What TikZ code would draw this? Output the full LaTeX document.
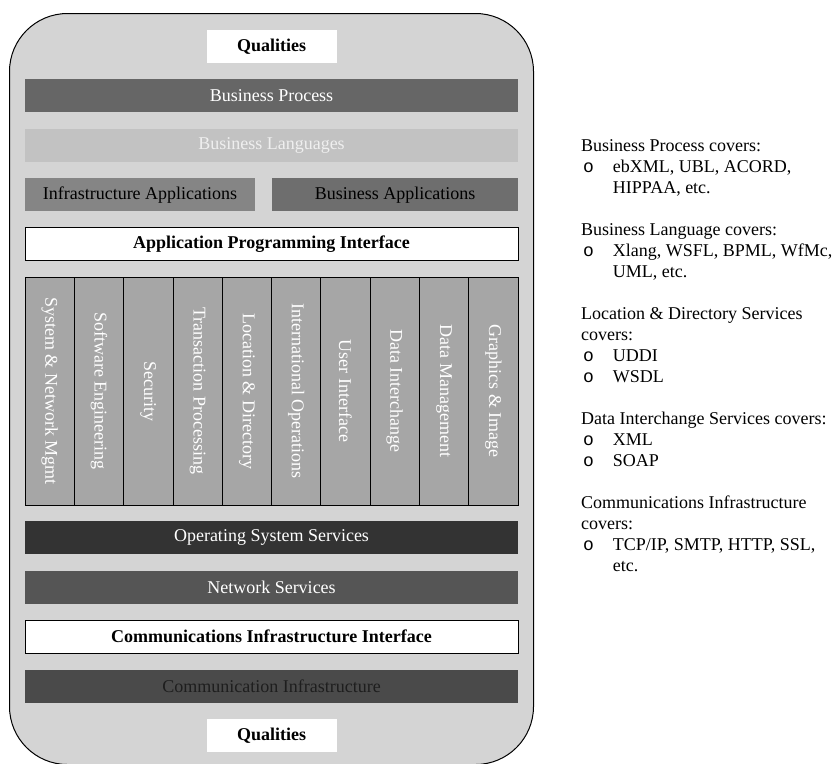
\documentclass[tikz,border=0pt]{standalone}
\usepackage{fontspec}
\setmainfont{Liberation Serif}
\newfontfamily\bulletfont{Liberation Mono}
\usetikzlibrary{positioning}

\definecolor{shellgray}{HTML}{D4D4D4}
\definecolor{procgray}{HTML}{666666}
\definecolor{langgray}{HTML}{C2C2C2}
\definecolor{langtext}{HTML}{EFEFEF}
\definecolor{infragray}{HTML}{858585}
\definecolor{bizgray}{HTML}{6E6E6E}
\definecolor{colgray}{HTML}{A6A6A6}
\definecolor{osgray}{HTML}{333333}
\definecolor{netgray}{HTML}{555555}
\definecolor{commgray}{HTML}{4A4A4A}
\definecolor{commtext}{HTML}{1E1E1E}

\newcommand{\notebullet}{\makebox[31.7pt][l]{\hspace{2pt}\bulletfont o}}
\newcommand{\noteindent}{\hspace*{31.7pt}}

\begin{document}
\begin{tikzpicture}[x=1pt, y=-1pt, node distance=16.4pt,
  txt/.style={font=\fontsize{18}{21}\selectfont},
  bar/.style={txt, minimum width=493pt, minimum height=33pt,
              inner sep=0pt, outer sep=0pt},
  whitebar/.style={bar, draw=black, line width=0.8pt, fill=white,
                   font=\fontsize{18}{21}\selectfont\bfseries},
  qbox/.style={fill=white, minimum width=130pt, minimum height=33pt,
               inner sep=0pt, outer sep=0pt,
               font=\fontsize{18}{21}\selectfont\bfseries},
  stackcol/.style={draw=black, line width=0.8pt, fill=colgray,
                   minimum width=49.3pt, minimum height=228pt,
                   inner sep=0pt, outer sep=0pt},
  coltext/.style={rotate=-90, text=white, txt}]

  \useasboundingbox (0,0) rectangle (837,763);

  % outer shell
  \node[draw=black, line width=1pt, fill=shellgray, rounded corners=58pt,
        minimum width=524pt, minimum height=751pt, inner sep=0pt,
        anchor=north west] (shell) at (9,13) {};

  % upper layers
  \node[qbox] (qtop) at (271.5,46.5) {Qualities};
  \node[bar, fill=procgray, text=white, below=of qtop] (bizproc)
    {Business Process};
  \node[bar, fill=langgray, text=langtext, below=of bizproc] (bizlang)
    {Business Languages};
  \node[bar, fill=infragray, minimum width=230pt,
        below=of bizlang.south west, anchor=north west] (infraapps)
    {Infrastructure Applications};
  \node[bar, fill=bizgray, minimum width=246pt,
        below=of bizlang.south east, anchor=north east] (bizapps)
    {Business Applications};
  \node[whitebar, below=of infraapps.south west, anchor=north west] (api)
    {Application Programming Interface};

  % service columns
  \node[stackcol, below=of api.south west, anchor=north west,
        label={[coltext]center:System \& Network Mgmt}] (sysmgmt) {};
  \node[stackcol, right=0pt of sysmgmt,
        label={[coltext]center:Software Engineering}] (softeng) {};
  \node[stackcol, right=0pt of softeng,
        label={[coltext]center:Security}] (security) {};
  \node[stackcol, right=0pt of security,
        label={[coltext]center:Transaction Processing}] (transact) {};
  \node[stackcol, right=0pt of transact,
        label={[coltext]center:Location \& Directory}] (locdir) {};
  \node[stackcol, right=0pt of locdir,
        label={[coltext]center:International Operations}] (intlops) {};
  \node[stackcol, right=0pt of intlops,
        label={[coltext]center:User Interface}] (userif) {};
  \node[stackcol, right=0pt of userif,
        label={[coltext]center:Data Interchange}] (datainter) {};
  \node[stackcol, right=0pt of datainter,
        label={[coltext]center:Data Management}] (datamgmt) {};
  \node[stackcol, right=0pt of datamgmt,
        label={[coltext]center:Graphics \& Image}] (graphics) {};

  % lower layers
  \node[bar, fill=osgray, text=white,
        below=of sysmgmt.south west, anchor=north west] (ossvc)
    {Operating System Services};
  \node[bar, fill=netgray, text=white, below=of ossvc] (netsvc)
    {Network Services};
  \node[whitebar, below=of netsvc] (cii)
    {Communications Infrastructure Interface};
  \node[bar, fill=commgray, text=commtext, below=of cii] (comminfra)
    {Communication Infrastructure};
  \node[qbox, below=of comminfra] (qbot) {Qualities};

  % notes on the right
  \node[txt, align=left, inner sep=0pt, anchor=north west] (notes)
    at (581,139.5) {%
    Business Process covers:\\
    \notebullet ebXML, UBL, ACORD,\\
    \noteindent HIPPAA, etc.\\[21pt]
    Business Language covers:\\
    \notebullet Xlang, WSFL, BPML, WfMc,\\
    \noteindent UML, etc.\\[21pt]
    Location \& Directory Services\\
    covers:\\
    \notebullet UDDI\\
    \notebullet WSDL\\[21pt]
    Data Interchange Services covers:\\
    \notebullet XML\\
    \notebullet SOAP\\[21pt]
    Communications Infrastructure\\
    covers:\\
    \notebullet TCP/IP, SMTP, HTTP, SSL,\\
    \noteindent etc.};
\end{tikzpicture}
\end{document}
